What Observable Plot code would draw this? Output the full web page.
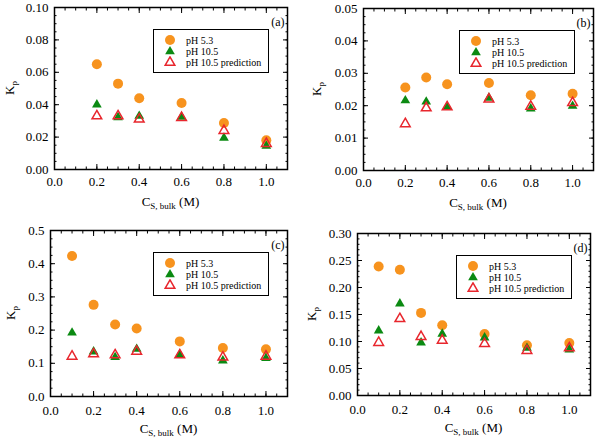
<!DOCTYPE html>
<html>
<head>
<meta charset="utf-8">
<script src="https://cdn.jsdelivr.net/npm/d3@7"></script>
<script src="https://cdn.jsdelivr.net/npm/@observablehq/plot@0.6"></script>
<style>
  html, body { margin: 0; padding: 0; background: #fff; }
  #chart { position: relative; width: 595px; height: 439px; overflow: hidden; font-family: "Liberation Serif", "Times New Roman", serif; }
  .panel { position: absolute; }
  .legend { position: absolute; box-sizing: border-box; width: 116px; height: 44px; border: 1.5px solid #000; background: #fff; font-size: 10px; }
  .legend .row { position: absolute; left: 0; height: 11px; line-height: 11px; white-space: nowrap; }
  .legend svg { position: absolute; left: 10px; top: 0; }
  .legend span { position: absolute; left: 32px; top: 0; }
</style>
</head>
<body>
<div id="chart"></div>
<script>
// Salt concentration (M) at which Kp was measured
const xAB = [0.2, 0.3, 0.4, 0.6, 0.8, 1.0];
const xCD = [0.1, 0.2, 0.3, 0.4, 0.6, 0.8, 1.0];

// Panel (a)
const aPH53 = [0.065, 0.053, 0.044, 0.041, 0.0287, 0.018];
const aPH105 = [0.040, 0.0322, 0.0330, 0.0324, 0.0195, 0.0145];
const aPred = [0.033, 0.033, 0.031, 0.032, 0.024, 0.016];

// Panel (b)
const bPH53 = [0.0256, 0.0287, 0.0266, 0.0270, 0.0232, 0.0237];
const bPH105 = [0.0216, 0.0212, 0.0196, 0.0224, 0.0191, 0.0199];
const bPred = [0.0144, 0.0193, 0.0196, 0.0220, 0.0198, 0.0209];

// Panel (c)
const cPH53 = [0.423, 0.276, 0.217, 0.205, 0.166, 0.146, 0.142];
const cPH105 = [0.192, 0.135, 0.118, 0.143, 0.126, 0.108, 0.115];
const cPred = [0.121, 0.128, 0.125, 0.136, 0.125, 0.118, 0.121];

// Panel (d)
const dPH53 = [0.239, 0.233, 0.153, 0.130, 0.114, 0.093, 0.097];
const dPH105 = [0.120, 0.170, 0.098, 0.114, 0.107, 0.088, 0.085];
const dPred = [0.098, 0.142, 0.109, 0.102, 0.096, 0.083, 0.088];

const seriesNames = ["pH 5.3", "pH 10.5", "pH 10.5 prediction"];
const xTicks = [0, 0.2, 0.4, 0.6, 0.8, 1.0];

const ORANGE = "#f7931e";
const GREEN = "#0b8a12";
const RED = "#e8262d";
const FONT = "'Liberation Serif', 'Times New Roman', serif";

const panels = [
  {tag: "(a)", left: 0, top: 0, width: 300, height: 220, m: [7, 13, 51, 54], xPad: 12, kx: 14,
   x: xAB, s: [aPH53, aPH105, aPred], yMax: 0.10, yStep: 0.02, yMinor: 0.005, yFmt: ".2f"},
  {tag: "(b)", left: 300, top: 0, width: 295, height: 220, m: [8, 2, 50, 63], xPad: 12, kx: 21,
   x: xAB, s: [bPH53, bPH105, bPred], yMax: 0.05, yStep: 0.01, yMinor: 0.0025, yFmt: ".2f"},
  {tag: "(c)", left: 0, top: 220, width: 300, height: 219, m: [10, 13, 43, 50], xPad: 14, kx: 15,
   x: xCD, s: [cPH53, cPH105, cPred], yMax: 0.5, yStep: 0.1, yMinor: 0.025, yFmt: ".1f"},
  {tag: "(d)", left: 300, top: 220, width: 295, height: 219, m: [13, 5, 44, 57], xPad: 14, kx: 16,
   x: xCD, s: [dPH53, dPH105, dPred], yMax: 0.30, yStep: 0.05, yMinor: 0.01, yFmt: ".2f"}
];

function steps(max, step) {
  const n = Math.round(max / step);
  return d3.range(n + 1).map(i => +(i * step).toFixed(6));
}

const chart = document.getElementById("chart");

for (const p of panels) {
  const [mt, mr, mb, ml] = p.m;
  const rows = k => p.x.map((x, i) => ({x, y: p.s[k][i]}));
  const yMajor = steps(p.yMax, p.yStep);
  const yMinor = steps(p.yMax, p.yMinor);
  const xMinor = steps(1.1, 0.05);
  const blank = () => "";

  const svg = Plot.plot({
    width: p.width,
    height: p.height,
    marginTop: mt, marginRight: mr, marginBottom: mb, marginLeft: ml,
    x: {domain: [0, 1.1], label: null},
    y: {domain: [0, p.yMax], label: null},
    style: {fontFamily: FONT, fontSize: "13px", color: "#000", background: "#fff"},
    marks: [
      // inward major / minor ticks on all four sides
      Plot.axisX(xTicks, {anchor: "bottom", tickSize: -5, tickPadding: p.xPad, tickFormat: d3.format(".1f"), label: null}),
      Plot.axisX(xMinor, {anchor: "bottom", tickSize: -2.5, tickFormat: blank, label: null}),
      Plot.axisX(xTicks, {anchor: "top", tickSize: -5, tickFormat: blank, label: null}),
      Plot.axisX(xMinor, {anchor: "top", tickSize: -2.5, tickFormat: blank, label: null}),
      Plot.axisY(yMajor, {anchor: "left", tickSize: -5, tickPadding: 11, tickFormat: d3.format(p.yFmt), label: null}),
      Plot.axisY(yMinor, {anchor: "left", tickSize: -2.5, tickFormat: blank, label: null}),
      Plot.axisY(yMajor, {anchor: "right", tickSize: -5, tickFormat: blank, label: null}),
      Plot.axisY(yMinor, {anchor: "right", tickSize: -2.5, tickFormat: blank, label: null}),
      Plot.frame({stroke: "#000", strokeWidth: 1.5}),
      Plot.dot(rows(0), {x: "x", y: "y", r: 5, symbol: "circle", fill: ORANGE}),
      Plot.dot(rows(1), {x: "x", y: "y", r: 3.6, symbol: "triangle", fill: GREEN}),
      Plot.dot(rows(2), {x: "x", y: "y", r: 3.6, symbol: "triangle", fill: "none", stroke: RED, strokeWidth: 1.5}),
      Plot.text([p.tag], {frameAnchor: "top-right", dx: -3, dy: 10, fontSize: 12})
    ]
  });

  // axis titles with subscripts
  const s = d3.select(svg);
  const cx = ml + (p.width - ml - mr) / 2;
  const cy = mt + (p.height - mt - mb) / 2;
  const xl = s.append("text")
    .attr("x", cx).attr("y", p.height - mb + 37)
    .attr("text-anchor", "middle")
    .attr("font-size", 13).attr("font-family", FONT).attr("fill", "#000");
  xl.append("tspan").text("C");
  xl.append("tspan").attr("font-size", 9).attr("dy", 3).text("S, bulk");
  xl.append("tspan").attr("dy", -3).text(" (M)");

  const yl = s.append("text")
    .attr("transform", `translate(${p.kx},${cy}) rotate(-90)`)
    .attr("text-anchor", "middle")
    .attr("font-size", 13).attr("font-family", FONT).attr("fill", "#000");
  yl.append("tspan").text("K");
  yl.append("tspan").attr("font-size", 9).attr("dy", 3).text("p");

  const holder = document.createElement("div");
  holder.className = "panel";
  holder.style.left = p.left + "px";
  holder.style.top = p.top + "px";
  holder.appendChild(svg);

  // legend box
  const lg = document.createElement("div");
  lg.className = "legend";
  lg.style.right = (mr + 18) + "px";
  lg.style.top = (mt + 22) + "px";
  const tri = d3.symbol(d3.symbolTriangle, Math.PI * 3.6 * 3.6)();
  const swatches = [
    `<circle cx="6" cy="6" r="5" fill="${ORANGE}"/>`,
    `<path transform="translate(6,6.5)" d="${tri}" fill="${GREEN}"/>`,
    `<path transform="translate(6,6.5)" d="${tri}" fill="none" stroke="${RED}" stroke-width="1.5"/>`
  ];
  seriesNames.forEach((name, i) => {
    const row = document.createElement("div");
    row.className = "row";
    row.style.top = (5 + i * 11) + "px";
    row.innerHTML = `<svg width="12" height="12" style="top:-1px">${swatches[i]}</svg><span>${name}</span>`;
    lg.appendChild(row);
  });
  holder.appendChild(lg);
  chart.appendChild(holder);
}
</script>
</body>
</html>
